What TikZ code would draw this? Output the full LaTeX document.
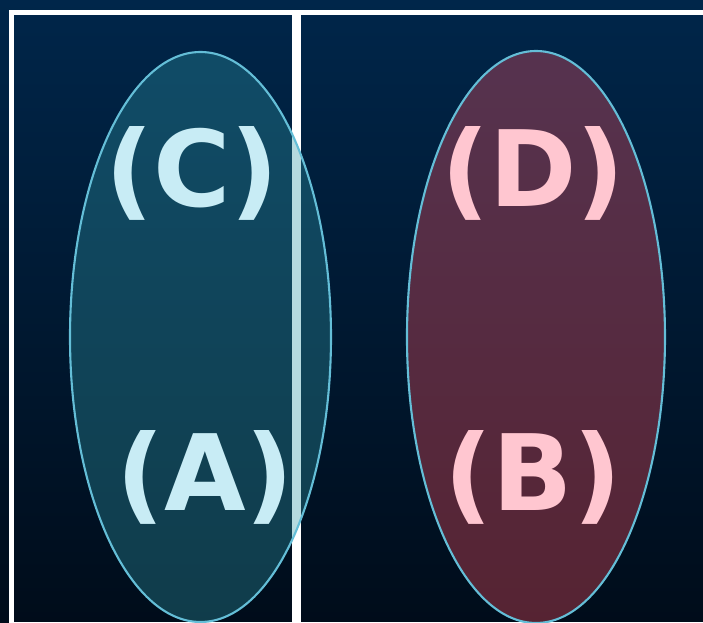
\documentclass[tikz,border=0pt]{standalone}
\usepackage{fontspec}
\setmainfont{DejaVu Sans}
\usetikzlibrary{positioning, shapes.geometric}
\definecolor{bgtop}{RGB}{0,38,74}
\definecolor{bgbottom}{RGB}{0,12,26}
\definecolor{setcyan}{RGB}{46,151,166}
\definecolor{setred}{RGB}{249,80,97}
\definecolor{edgecyan}{RGB}{100,190,215}
\definecolor{textcyan}{RGB}{200,236,245}
\definecolor{textpink}{RGB}{255,198,208}

\tikzset{
  frame/.style={draw=white, line width=1.45pt},
  setshape/.style={ellipse, draw=edgecyan, line width=0.6pt, fill opacity=0.35,
    draw opacity=1, inner sep=0pt},
  setlabel/.style={font=\fontsize{30}{30}\selectfont\bfseries, inner sep=0pt}
}

\begin{document}
\begin{tikzpicture}
  \useasboundingbox (0,0) rectangle (7.03,6.23);
  % background
  \shade[top color=bgtop, bottom color=bgbottom] (0,0) rectangle (7.03,6.23);

  % two frames
  \draw[frame] (0.1175,-0.02) rectangle (2.945,6.105);
  \draw[frame] (2.985,-0.02) rectangle (7.3,6.105);

  % sets
  \node[setshape, fill=setcyan, minimum width=2.61cm, minimum height=5.70cm]
    (setleft) at (2.005,2.86) {};
  \node[setshape, fill=setred, minimum width=2.58cm, minimum height=5.72cm]
    (setright) at (5.36,2.86) {};

  % labels
  \node[setlabel, text=textcyan] (labC) at (1.92,4.50) {(C)};
  \node[setlabel, text=textcyan] (labA) at (2.05,1.46) {(A)};
  \node[setlabel, text=textpink] (labD) at (5.33,4.50) {(D)};
  \node[setlabel, text=textpink] (labB) at (5.33,1.46) {(B)};
\end{tikzpicture}
\end{document}
